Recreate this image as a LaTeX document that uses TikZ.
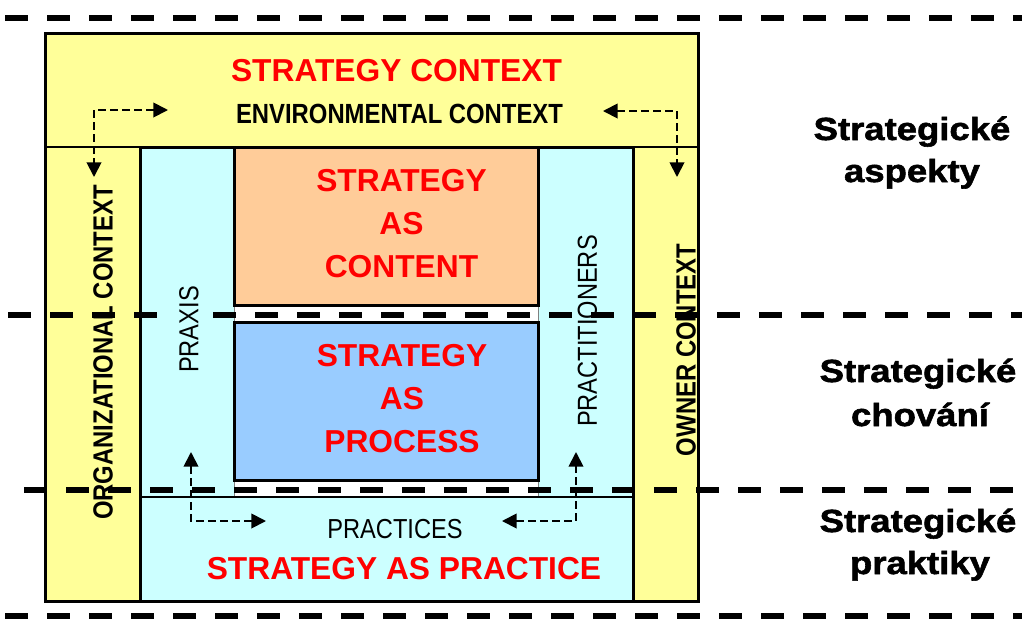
\documentclass[tikz,border=0pt]{standalone}
\usepackage{fontspec}
\setmainfont{Liberation Sans}
\newfontfamily\narrowfont[FakeStretch=0.86]{Liberation Sans}
\newfontfamily\heavyfont[FakeStretch=1.14,FakeBold=1.8]{Liberation Sans}
\usetikzlibrary{arrows.meta}
\definecolor{ctxyellow}{HTML}{FFFF99}
\definecolor{praccyan}{HTML}{CCFFFF}
\definecolor{contorange}{HTML}{FFCC99}
\definecolor{procblue}{HTML}{99CCFF}
\definecolor{titlered}{HTML}{FF0000}
\begin{document}
\begin{tikzpicture}[x=0.75pt,y=-0.75pt,
  thickbox/.style={draw=black,line width=2.25pt},
  thinrule/.style={draw=black,line width=1.2pt},
  redtitle/.style={text=titlered,font=\bfseries\fontsize{23.8}{32.3}\selectfont,align=center,inner sep=0pt},
  ctxlabel/.style={font=\narrowfont\bfseries\fontsize{20.8}{24}\selectfont,inner sep=0pt},
  actlabel/.style={font=\narrowfont\fontsize{20.6}{24}\selectfont,inner sep=0pt},
  sidelabel/.style={font=\heavyfont\bfseries\fontsize{24}{28}\selectfont,anchor=base,inner sep=0pt},
  flow/.style={line width=1.4pt,dash pattern=on 5.6pt off 3.4pt,
    {Triangle[length=11pt,width=11pt]}-{Triangle[length=11pt,width=11pt]}},
  sepline/.style={line width=4.5pt,dash pattern=on 17.25pt off 14.25pt}]
\useasboundingbox (0,0) rectangle (1022,619);

% context frame and the three strategy boxes
\draw[thickbox,fill=ctxyellow] (45,33) rectangle (698,601);
\draw[thinrule] (45,147) -- (698,147);
\draw[thickbox,fill=praccyan] (140,147) rectangle (633,601);
\filldraw[fill=white,draw=gray,line width=0.6pt] (234,305) rectangle (538,497);
\draw[thickbox,fill=contorange] (234,147) rectangle (538,305);
\draw[thickbox,fill=procblue] (234,322) rectangle (538,480);
\draw[thinrule] (140,497) -- (633,497);

% labels
\node[redtitle] (ctxtitle) at (396.5,71) {STRATEGY CONTEXT};
\node[ctxlabel] (envctx) at (399.5,113.5) {ENVIRONMENTAL CONTEXT};
\node[redtitle] (content) at (401.5,224) {STRATEGY\\AS\\CONTENT};
\node[redtitle] (process) at (402,399) {STRATEGY\\AS\\PROCESS};
\node[actlabel] (practices) at (395,529.5) {PRACTICES};
\node[redtitle] (practice) at (404,569) {STRATEGY AS PRACTICE};
\node[ctxlabel,rotate=90] (orgctx) at (103,352.5) {ORGANIZATIONAL CONTEXT};
\node[actlabel,rotate=90] (praxis) at (189,329.5) {PRAXIS};
\node[actlabel,rotate=90] (practitioners) at (587.5,331) {PRACTITIONERS};
\node[ctxlabel,rotate=90] (ownerctx) at (686,350) {OWNER CONTEXT};

% two-way links between the contexts and between the practice elements
\coordinate (envL) at (168,110);
\coordinate (orgT) at (94,177);
\coordinate (envR) at (603,111);
\coordinate (ownT) at (677,177);
\coordinate (pracL) at (266,521);
\coordinate (praxB) at (191,452);
\coordinate (pracR) at (502,521);
\coordinate (ptnB) at (576,452);
\draw[flow] (envL) -| (orgT);
\draw[flow] (envR) -| (ownT);
\draw[flow] (pracL) -| (praxB);
\draw[flow] (pracR) -| (ptnB);

% level names on the right
\node[sidelabel] (aspA) at (912,140) {Strategické};
\node[sidelabel] (aspB) at (912,182) {aspekty};
\node[sidelabel] (behA) at (918,382) {Strategické};
\node[sidelabel] (behB) at (920,426) {chování};
\node[sidelabel] (praA) at (918,532) {Strategické};
\node[sidelabel] (praB) at (920,574) {praktiky};

% level separators
\draw[sepline] (5,18) -- (1022,18);
\draw[sepline] (8,314.5) -- (160,314.5);
\draw[sepline] (213,314.5) -- (1022,314.5);
\draw[sepline] (24,490) -- (1022,490);
\draw[sepline] (5,615.5) -- (1022,615.5);
\end{tikzpicture}
\end{document}
